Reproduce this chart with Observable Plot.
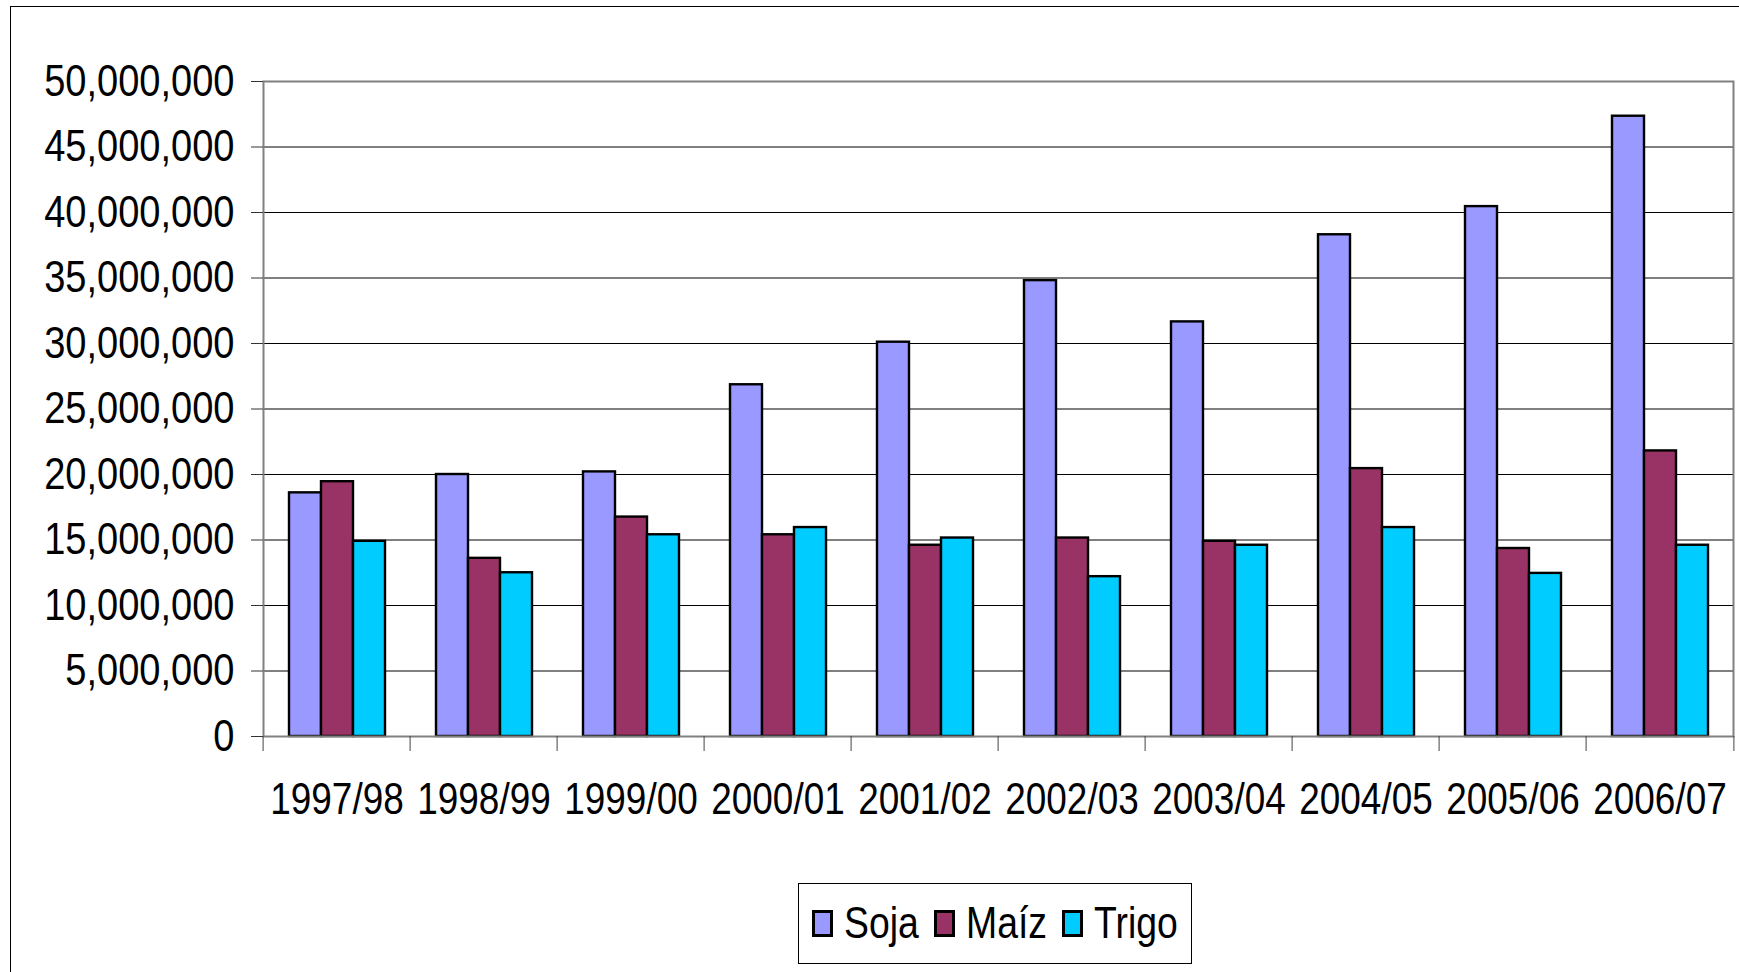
<!DOCTYPE html>
<html>
<head>
<meta charset="utf-8">
<script src="https://cdn.jsdelivr.net/npm/d3@7"></script>
<script src="https://cdn.jsdelivr.net/npm/@observablehq/plot@0.6"></script>
<style>
  html, body { margin: 0; padding: 0; background: #fff; width: 1739px; height: 972px; overflow: hidden; }
  #frame { position: absolute; left: 10px; top: 6px; width: 1900px; height: 1100px; border: 1.5px solid #000; }
  #chart { position: absolute; left: 0; top: 0; }
  #legend {
    position: absolute; left: 798px; top: 883px; width: 394px; height: 81px;
    box-sizing: border-box; border: 1.5px solid #000; background: #fff;
    display: flex; align-items: center; padding-left: 13px;
    font-family: "Liberation Sans", Arial, sans-serif;
    font-size: 44.5px; color: #000;
  }
  #legend .item { display: flex; align-items: center; margin-right: 15px; }
  #legend .sw { width: 21px; height: 27px; box-sizing: border-box; border: 3px solid #000; margin-right: 11px; flex: none; }
  #legend .lb { display: inline-block; transform: scaleX(0.84); transform-origin: 0 50%; white-space: nowrap; line-height: 1; }
</style>
</head>
<body>
<div id="frame"></div>
<div id="chart"></div>
<div id="legend"></div>
<script>
const categories = ["1997/98", "1998/99", "1999/00", "2000/01", "2001/02", "2002/03", "2003/04", "2004/05", "2005/06", "2006/07"];
const series = ["Soja", "Maíz", "Trigo"];
const soja  = [18600000, 20000000, 20200000, 26850000, 30100000, 34800000, 31650000, 38300000, 40450000, 47350000];
const maiz  = [19450000, 13600000, 16750000, 15400000, 14600000, 15150000, 14900000, 20450000, 14350000, 21800000];
const trigo = [14900000, 12500000, 15400000, 15950000, 15150000, 12200000, 14600000, 15950000, 12450000, 14600000];
const colors = ["#9999FF", "#993366", "#00CCFF"];
const yTicks = [0, 5000000, 10000000, 15000000, 20000000, 25000000, 30000000, 35000000, 40000000, 45000000, 50000000];

const seriesValues = [soja, maiz, trigo];
const rows = categories.flatMap((c, i) => series.map((s, j) => ({category: c, series: s, value: seriesValues[j][i]})));

const W = 1739, H = 880, ML = 259, MR = 2, MT = 81, MB = 144;
const bw = (W - ML - MR) / categories.length;
const font = '"Liberation Sans", Arial, sans-serif';
const NARROW_Y = 0.855, NARROW_X = 0.83, NARROW_L = 0.84;

const plot = Plot.plot({
  width: W, height: H,
  marginLeft: ML, marginRight: MR, marginTop: MT, marginBottom: MB,
  style: {fontFamily: font, fontSize: "44.5px", color: "#000", background: "transparent", overflow: "visible"},
  fx: {domain: categories, padding: 0, label: null},
  x: {domain: series, paddingInner: 0, paddingOuter: 0.74, axis: null},
  y: {domain: [0, 50000000], label: null, axis: null},
  color: {domain: series, range: colors},
  marks: [
    Plot.ruleY(yTicks.slice(1, -1), {stroke: "#000", strokeWidth: 1, strokeOpacity: 1}),
    Plot.barY(rows, {fx: "category", x: "series", y: "value", fill: "series", stroke: "#000", strokeWidth: 2.4}),
    Plot.frame({facet: "super", stroke: "#808080", strokeWidth: 2}),
    Plot.axisY({ticks: yTicks, tickFormat: d3.format(","), tickSize: 12, tickPadding: 17, label: null, stroke: "#333", strokeOpacity: 1, fontSize: 44.5}),
    Plot.axisFx({anchor: "bottom", tickSize: 0, tickPadding: 46, label: null, fontSize: 44.5}),
    Plot.axisFx({anchor: "bottom", tickSize: 15, text: null, label: null, dx: -bw / 2, stroke: "#444", strokeOpacity: 1}),
    Plot.axisFx({anchor: "bottom", ticks: [categories[categories.length - 1]], tickSize: 15, text: null, label: null, dx: bw / 2, stroke: "#444", strokeOpacity: 1})
  ]
});
document.getElementById("chart").appendChild(plot);

// Condense axis tick labels horizontally (narrow typeface look)
function condense(selector, k) {
  plot.querySelectorAll(selector).forEach(el => {
    const t = el.getAttribute("transform");
    if (t) {
      el.setAttribute("transform", t + ` scale(${k},1)`);
    } else {
      const x = +el.getAttribute("x") || 0;
      el.setAttribute("transform", `translate(${x},0) scale(${k},1) translate(${-x},0)`);
    }
  });
}
condense('g[aria-label="y-axis tick label"] text', NARROW_Y);
condense('g[aria-label="fx-axis tick label"] text', NARROW_X);

const legend = document.getElementById("legend");
series.forEach((s, j) => {
  const item = document.createElement("div");
  item.className = "item";
  const sw = document.createElement("div");
  sw.className = "sw";
  sw.style.background = colors[j];
  const label = document.createElement("span");
  label.className = "lb";
  label.textContent = s;
  item.appendChild(sw);
  item.appendChild(label);
  legend.appendChild(item);
});
legend.querySelectorAll(".lb").forEach(el => {
  el.style.marginRight = (-(1 - NARROW_L) * el.offsetWidth) + "px";
});
</script>
</body>
</html>
